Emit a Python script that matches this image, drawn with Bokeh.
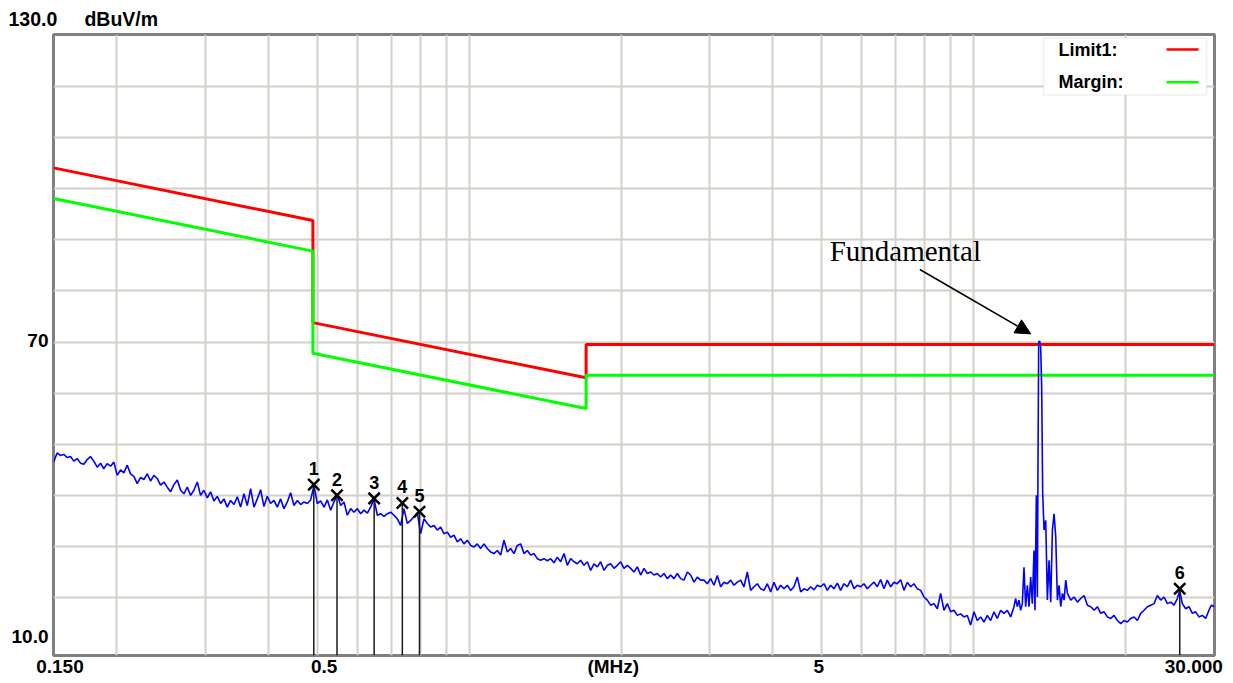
from bokeh.plotting import figure
from bokeh.models import FixedTicker, Label, BoxAnnotation, Arrow, NormalHead, Range1d
from bokeh.core.properties import value
from bokeh.embed import file_html
from bokeh.resources import INLINE

# ---------------- data ----------------
# limit lines (MHz, dBuV/m)
limit_mhz = [0.15, 0.49, 0.49, 1.705, 1.705, 30.0]
limit_db = [104.1, 93.8, 73.8, 63.0, 69.5, 69.5]
margin_db = [98.1, 87.8, 67.8, 57.0, 63.5, 63.5]

# measured trace, frequency in kHz and level in dBuV/m
trace_khz = [
    150.2, 152.5, 154.8, 157.2, 159.6, 162.1, 164.6, 167.1, 169.7, 172.3,
    174.9, 177.6, 180.3, 183.1, 185.9, 188.7, 191.6, 194.6, 197.6, 200.6,
    203.7, 206.8, 210.0, 213.2, 216.5, 219.8, 223.2, 226.6, 230.1, 233.6,
    237.2, 240.8, 244.5, 248.3, 252.1, 256.0, 259.9, 263.9, 267.9, 272.0,
    276.2, 280.4, 284.7, 289.1, 293.5, 298.0, 302.6, 307.2, 311.9, 316.7,
    321.6, 326.5, 331.5, 336.6, 341.8, 347.0, 352.3, 357.7, 363.2, 368.8,
    374.5, 380.2, 386.0, 391.9, 397.9, 404.0, 410.2, 416.5, 422.9, 429.4,
    436.0, 442.7, 449.5, 456.4, 463.4, 470.5, 477.7, 485.0, 492.4, 500.0,
    507.7, 515.5, 523.4, 531.4, 539.5, 547.8, 556.2, 564.7, 573.4, 582.2,
    591.1, 600.2, 609.4, 618.7, 628.2, 637.8, 647.6, 657.5, 667.6,
    677.8, 688.2, 698.7, 709.4, 720.3, 731.3, 742.5, 753.9, 765.5, 777.2,
    789.1, 801.2, 813.5, 826.0, 838.6, 851.5, 864.5, 877.8, 891.2, 904.9,
    918.8, 932.9, 947.2, 961.7, 976.4, 991.4, 1006.6, 1022.0, 1037.7, 1053.6,
    1069.7, 1086.1, 1102.8, 1119.7, 1136.9, 1154.3, 1172.0, 1190.0, 1208.2, 1226.7,
    1245.5, 1264.6, 1284.0, 1303.7, 1323.7, 1344.0, 1364.6, 1385.5, 1406.7, 1428.3,
    1450.2, 1472.4, 1495.0, 1517.9, 1541.2, 1564.8, 1588.8, 1613.2, 1637.9, 1663.0,
    1688.5, 1714.4, 1740.7, 1767.4, 1794.5, 1822.0, 1849.9, 1878.3, 1907.1, 1936.3,
    1966.0, 1996.1, 2026.7, 2057.8, 2089.3, 2121.3, 2153.8, 2186.8, 2220.3, 2254.4,
    2288.9, 2324.0, 2359.6, 2395.8, 2432.5, 2469.8, 2507.7, 2546.1, 2585.1, 2624.7,
    2665.0, 2705.8, 2747.3, 2789.4, 2832.1, 2875.5,
    2919.6, 2964.4, 3009.8, 3055.9, 3102.8, 3150.3, 3198.6, 3247.6, 3297.4, 3347.9,
    3399.2, 3451.3, 3504.2, 3557.9, 3612.5, 3667.8, 3724.0, 3781.1, 3839.1, 3897.9,
    3957.6, 4018.3, 4079.9, 4142.4, 4205.9, 4270.4, 4335.8, 4402.3, 4469.8, 4538.3,
    4607.8, 4678.4, 4750.1, 4822.9, 4896.8, 4971.9, 5048.1, 5125.5, 5204.0, 5283.8,
    5364.8, 5447.0, 5530.5, 5615.3, 5701.4, 5788.8, 5877.5, 5967.6, 6059.0, 6151.9,
    6246.2, 6341.9, 6439.1, 6537.8, 6638.0, 6739.8, 6843.1, 6948.0, 7054.5, 7162.6,
    7272.4, 7383.9, 7497.0, 7611.9, 7728.6, 7847.1, 7967.4, 8089.5, 8213.5, 8339.4,
    8467.2, 8597.0, 8728.8, 8862.6, 8998.4, 9136.4, 9276.4, 9418.6, 9563.0, 9709.6,
    9858.4, 10009.5, 10163, 10319, 10477, 10637, 10800, 10966, 11134, 11305,
    11479, 11655, 11834, 12015, 12107, 12199, 12292, 12386, 12481, 12576,
    12672, 12769, 12867, 12966, 13065, 13165, 13222, 13307, 13368, 13405,
    13448, 13510, 13571, 13633, 13695, 13781, 13887, 13993, 14100, 14208,
    14317, 14426, 14537, 14648, 14760, 14873, 14987, 15101, 15217, 15333,
    15568, 15806, 16048, 16294, 16544, 16797, 17055, 17316, 17581, 17851,
    18124, 18402, 18684, 18970, 19261, 19556, 19855, 20159, 20468, 20782,
    21100, 21423, 21751, 22085, 22423, 22767, 23115, 23469, 23829, 24194,
    24565, 24941, 25323, 25590, 25904, 26301, 26704, 27113, 27528, 27950,
    28378, 28813, 29254, 29575, 30000,
]
trace_db = [
    46.6, 48.3, 47.8, 48.0, 47.4, 47.6, 46.7, 47.2, 46.3, 46.1,
    47.0, 47.6, 46.7, 45.5, 46.3, 45.2, 46.2, 45.7, 46.5, 43.9,
    45.0, 44.4, 45.9, 44.2, 43.7, 42.3, 43.5, 43.1, 44.2, 42.8,
    43.9, 43.3, 42.0, 42.6, 41.6, 40.7, 42.1, 43.0, 41.0, 40.3,
    41.6, 40.0, 41.0, 42.6, 40.0, 41.0, 39.5, 40.7, 38.9, 39.8,
    38.4, 39.3, 37.7, 39.0, 38.2, 39.7, 37.7, 40.3, 38.0, 41.3,
    37.7, 39.3, 41.1, 37.8, 39.8, 38.4, 39.0, 37.7, 39.3, 37.4,
    38.7, 40.5, 38.0, 39.0, 38.2, 38.7, 38.4, 39.1, 41.9, 38.4,
    38.9, 37.7, 39.1, 37.1, 38.7, 40.0, 38.0, 38.7, 36.1, 37.4,
    36.7, 37.4, 36.4, 37.1, 36.5, 37.7, 39.3, 36.1, 36.4,
    35.9, 36.4, 36.7, 36.1, 35.4, 34.1, 37.4, 34.5, 35.1, 35.8,
    36.6, 32.5, 35.4, 34.5, 33.8, 34.1, 33.2, 33.8, 32.5, 32.8,
    31.8, 32.2, 30.9, 31.5, 30.5, 31.2, 30.2, 29.9, 30.5, 29.6,
    30.5, 29.6, 28.9, 28.6, 29.2, 28.3, 31.2, 28.9, 29.6, 28.6,
    30.2, 30.5, 28.6, 29.2, 28.3, 28.6, 27.6, 27.3, 27.6, 27.2,
    27.6, 26.8, 27.9, 27.0, 28.6, 26.3, 27.6, 27.0, 26.6, 27.3,
    26.3, 27.0, 25.3, 26.6, 26.0, 27.0, 25.3, 26.3, 26.6, 25.7,
    26.3, 27.0, 25.7, 26.3, 25.7, 25.0, 26.0, 24.4, 25.7, 24.7,
    25.0, 24.4, 24.7, 24.0, 24.7, 23.7, 24.4, 23.7, 24.7, 23.7,
    23.4, 25.0, 24.4, 23.0, 24.0, 23.4,
    23.4, 22.7, 23.7, 22.4, 24.3, 22.1, 23.0, 22.7, 23.4, 22.4,
    23.0, 23.4, 22.1, 25.0, 21.4, 22.1, 22.7, 21.7, 21.4, 22.7,
    21.1, 23.0, 21.4, 22.4, 21.7, 22.4, 21.4, 22.1, 24.0, 21.1,
    21.7, 21.4, 22.1, 21.5, 22.4, 22.1, 22.7, 21.4, 22.4, 21.7,
    22.8, 21.4, 22.7, 22.1, 23.4, 21.7, 22.4, 22.1, 22.7, 21.7,
    22.4, 23.0, 22.1, 23.5, 21.7, 23.4, 22.1, 23.0, 22.7, 23.5,
    21.4, 23.0, 22.1, 22.7, 21.7, 21.4, 20.1, 19.5, 18.5, 18.8,
    17.8, 20.8, 17.5, 18.8, 17.2, 17.5, 16.5, 16.8, 16.2, 16.5,
    14.6, 17.2, 15.5, 16.2, 15.2, 16.5, 15.5, 17.2, 15.9, 17.5,
    16.9, 17.5, 16.2, 18.2, 19.8, 18.2, 19.5, 17.5, 18.8, 25.9,
    18.2, 22.4, 18.2, 24.0, 18.8, 29.2, 17.5, 40.0, 20.1, 45.5,
    70.0, 70.2, 69.0, 61.2, 40.7, 33.2, 35.1, 19.5, 27.3, 19.1,
    33.2, 36.4, 31.9, 19.5, 22.4, 18.2, 20.8, 19.5, 23.4, 20.8,
    19.5, 20.1, 19.1, 19.8, 20.4, 18.5, 18.2, 17.5, 18.2, 16.9,
    17.2, 16.2, 15.9, 16.5, 15.5, 14.9, 15.5, 15.2, 15.9, 16.2,
    15.5, 16.9, 17.5, 18.2, 18.5, 18.8, 20.4, 19.5, 20.1, 18.8,
    19.1, 18.5, 19.8, 21.4, 18.8, 17.8, 18.2, 16.9, 17.2, 16.2,
    16.5, 15.9, 17.5, 18.5, 18.2,
]
trace_mhz = [f / 1000.0 for f in trace_khz]

# peak markers
marker_ids = ["1", "2", "3", "4", "5", "6"]
marker_mhz = [0.492, 0.547, 0.648, 0.737, 0.797, 25.6]
marker_db = [42.1, 40.0, 39.4, 38.5, 36.8, 21.7]

# axes / grid
x_min, x_max = 0.15, 30.0
y_min, y_max = 8.65, 130.2
xgrid_mhz = [0.2, 0.3, 0.4, 0.5, 0.6, 0.7, 0.8, 0.9, 1, 2, 3, 4, 5, 6, 7, 8, 9, 10, 20]
ygrid_db = [20, 30, 40, 50, 60, 70, 80, 90, 100, 110, 120]
xtick_pos = [0.1545, 0.516, 1.93, 4.93, 27.3]
xtick_text = ["0.150", "0.5", "(MHz)", "5", "30.000"]
ytick_pos = [12.3, 70.4]
ytick_text = ["10.0", "70"]
top_value = "130.0"
unit_text = "dBuV/m"

legend_names = ["Limit1:", "Margin:"]
legend_colors = ["#ff0000", "#00ff00"]

# ---------------- figure ----------------
p = figure(width=1225, height=679, x_axis_type="log",
           x_range=Range1d(x_min, x_max), y_range=Range1d(y_min, y_max),
           output_backend="svg", toolbar_location=None,
           min_border_left=53, min_border_right=11, min_border_top=34, min_border_bottom=20)
p.background_fill_color = "white"
p.border_fill_color = "white"
p.outline_line_color = "#808080"
p.outline_line_width = 3

# header "130.0   dBuV/m" above the frame, as the plot title
p.title.text = top_value + "\u00a0" * 5 + unit_text
p.title.align = "left"
p.title.offset = -45
p.title.standoff = 10
p.title.text_font = "Liberation Sans"
p.title.text_font_style = "bold"
p.title.text_font_size = "19.5px"
p.title.text_color = "black"

for ax in (p.xaxis[0], p.yaxis[0]):
    ax.axis_line_color = None
    ax.major_tick_line_color = None
    ax.minor_tick_line_color = None
    ax.major_tick_out = 0
    ax.major_tick_in = 0
    ax.minor_tick_out = 0
    ax.major_label_text_font = "Liberation Sans"
    ax.major_label_text_font_style = "bold"
    ax.major_label_text_font_size = "19px"
    ax.major_label_text_color = "black"

p.xaxis.ticker = FixedTicker(ticks=xtick_pos)
p.xaxis.major_label_overrides = {v: t for v, t in zip(xtick_pos, xtick_text)}
p.xaxis.major_label_standoff = 0
p.yaxis.ticker = FixedTicker(ticks=ytick_pos)
p.yaxis.major_label_overrides = {v: t for v, t in zip(ytick_pos, ytick_text)}
p.yaxis.major_label_standoff = 5

p.xgrid.ticker = FixedTicker(ticks=xgrid_mhz)
p.ygrid.ticker = FixedTicker(ticks=ygrid_db)
p.xgrid.grid_line_color = "#d4d0c8"
p.ygrid.grid_line_color = "#d4d0c8"
p.xgrid.grid_line_width = 2
p.ygrid.grid_line_width = 2

# limit lines
p.line(limit_mhz, limit_db, line_color=legend_colors[0], line_width=3)
p.line(limit_mhz, margin_db, line_color=legend_colors[1], line_width=3)

# trace
p.line(trace_mhz, trace_db, line_color="#0000ff", line_width=1.6)

# markers
p.segment(x0=marker_mhz, y0=marker_db, x1=marker_mhz, y1=[y_min] * len(marker_mhz),
          line_color="#1a1a1a", line_width=1.5)
p.scatter(marker_mhz, marker_db, marker="x", size=16, line_width=2.5, line_color="black")
p.text(x=marker_mhz, y=marker_db, text=marker_ids, text_font=value("Liberation Sans"),
       text_font_size="18px", text_font_style="bold", text_align="center",
       text_baseline="middle", y_offset=-16, text_color="black")

# annotation
p.add_layout(Label(x=5.18, y=87.8, text="Fundamental", text_font="Liberation Serif",
                   text_font_size="29px", text_baseline="alphabetic", text_color="black"))
p.add_layout(Arrow(end=NormalHead(size=15, fill_color="black", line_color="black", line_width=1),
                   x_start=7.82, y_start=84.2, x_end=12.97, y_end=71.6,
                   line_color="black", line_width=1.5))

# legend box (label left, line sample right, as in the reference)
FH = 621
p.add_layout(BoxAnnotation(left=990, right=1153, bottom=FH - 60.5, top=FH - 3.5,
                           left_units="screen", right_units="screen",
                           top_units="screen", bottom_units="screen",
                           fill_color="white", fill_alpha=1.0,
                           line_color="#d4d0c8", line_width=1.5))
legend_rows_y = [FH - 15, FH - 47.7]
for name, col, yy in zip(legend_names, legend_colors, legend_rows_y):
    p.add_layout(Label(x=1005, y=yy, x_units="screen", y_units="screen", text=name,
                       text_font="Liberation Sans", text_font_style="bold", text_font_size="18px",
                       text_baseline="middle", text_color="black"))
    p.add_layout(BoxAnnotation(left=1113, right=1145, bottom=yy - 1.3, top=yy + 1.3,
                               left_units="screen", right_units="screen",
                               top_units="screen", bottom_units="screen",
                               fill_color=col, fill_alpha=1.0, line_color=None))

open("out.html", "w").write(file_html(p, INLINE))
